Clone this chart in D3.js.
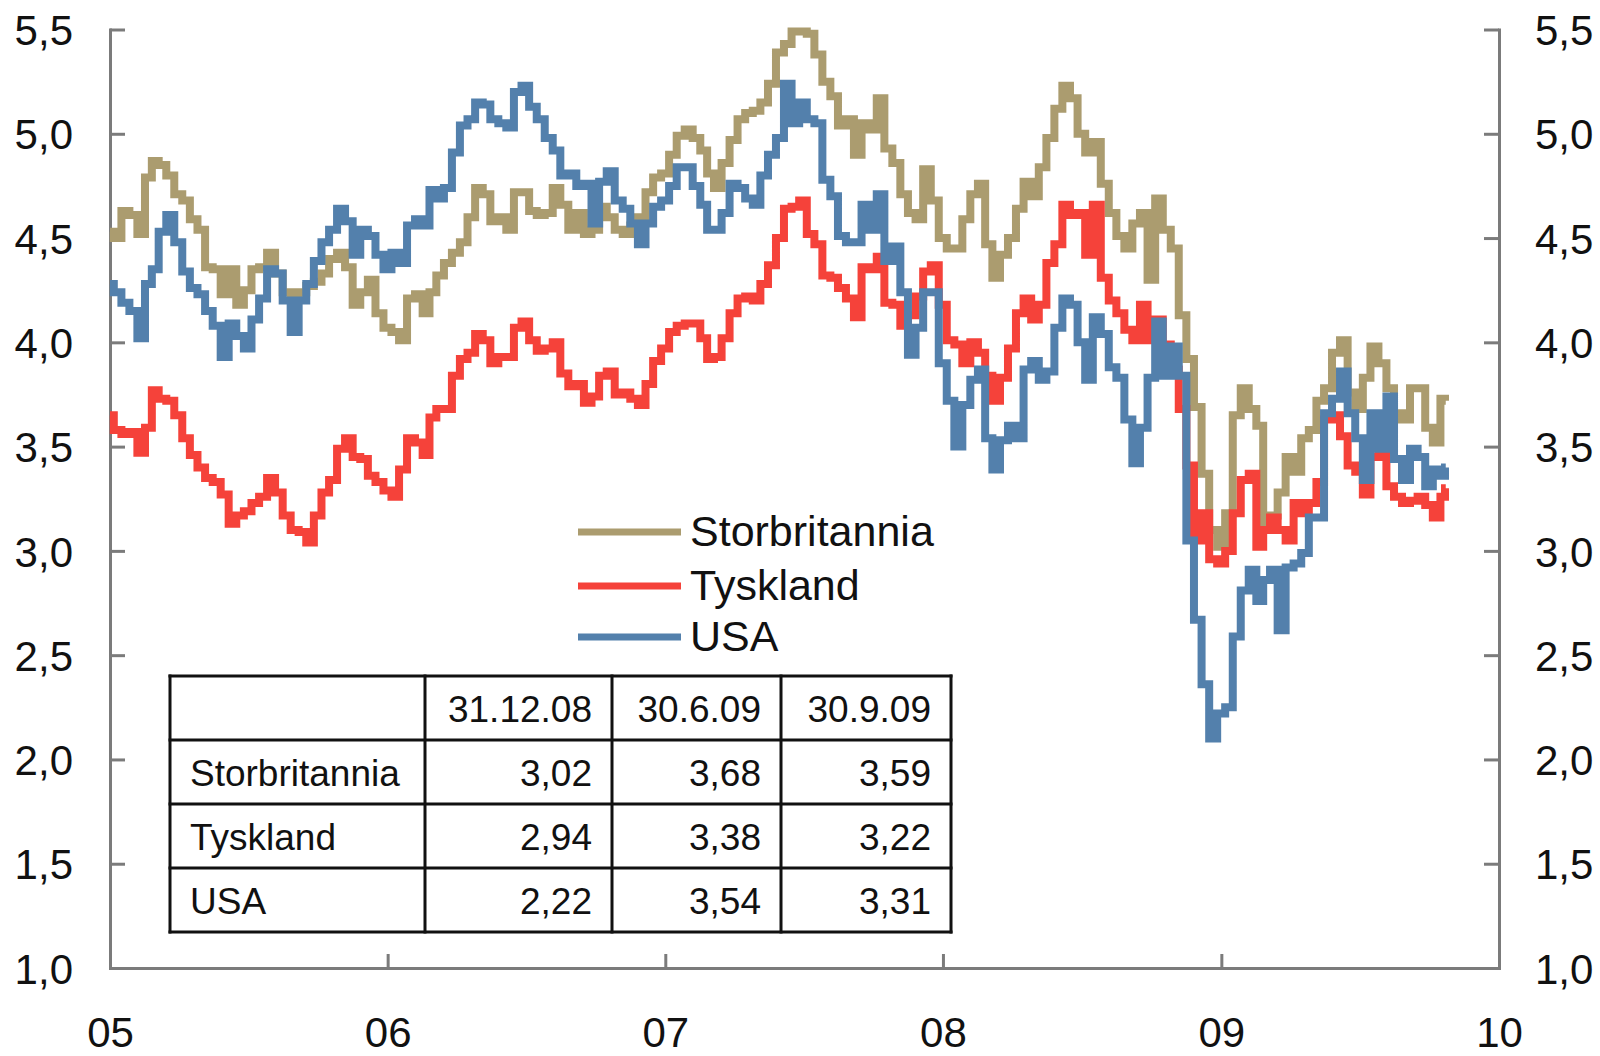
<!DOCTYPE html>
<html>
<head>
<meta charset="utf-8">
<script src="https://cdn.jsdelivr.net/npm/d3@7"></script>
<style>
  html, body { margin: 0; padding: 0; background: #fff; }
  svg { display: block; }
  text { font-family: "Liberation Sans", Arial, Helvetica, sans-serif; fill: #111; }
</style>
</head>
<body>
<svg id="chart" width="1600" height="1056"></svg>
<script>
// ---------- DATA ----------
const dates = [
"2005-01-01","2005-01-11","2005-01-21","2005-02-01","2005-02-11","2005-02-21","2005-03-01","2005-03-11","2005-03-21","2005-04-01","2005-04-11","2005-04-21",
"2005-05-01","2005-05-11","2005-05-21","2005-06-01","2005-06-11","2005-06-21","2005-07-01","2005-07-11","2005-07-21","2005-08-01","2005-08-11","2005-08-21",
"2005-09-01","2005-09-11","2005-09-21","2005-10-01","2005-10-11","2005-10-21","2005-11-01","2005-11-11","2005-11-21","2005-12-01","2005-12-11","2005-12-21",
"2006-01-01","2006-01-11","2006-01-21","2006-02-01","2006-02-11","2006-02-21","2006-03-01","2006-03-11","2006-03-21","2006-04-01","2006-04-11","2006-04-21",
"2006-05-01","2006-05-11","2006-05-21","2006-06-01","2006-06-11","2006-06-21","2006-07-01","2006-07-11","2006-07-21","2006-08-01","2006-08-11","2006-08-21",
"2006-09-01","2006-09-11","2006-09-21","2006-10-01","2006-10-11","2006-10-21","2006-11-01","2006-11-11","2006-11-21","2006-12-01","2006-12-11","2006-12-21",
"2007-01-01","2007-01-11","2007-01-21","2007-02-01","2007-02-11","2007-02-21","2007-03-01","2007-03-11","2007-03-21","2007-04-01","2007-04-11","2007-04-21",
"2007-05-01","2007-05-11","2007-05-21","2007-06-01","2007-06-11","2007-06-21","2007-07-01","2007-07-11","2007-07-21","2007-08-01","2007-08-11","2007-08-21",
"2007-09-01","2007-09-11","2007-09-21","2007-10-01","2007-10-11","2007-10-21","2007-11-01","2007-11-11","2007-11-21","2007-12-01","2007-12-11","2007-12-21",
"2008-01-01","2008-01-11","2008-01-21","2008-02-01","2008-02-11","2008-02-21","2008-03-01","2008-03-11","2008-03-21","2008-04-01","2008-04-11","2008-04-21",
"2008-05-01","2008-05-11","2008-05-21","2008-06-01","2008-06-11","2008-06-21","2008-07-01","2008-07-11","2008-07-21","2008-08-01","2008-08-11","2008-08-21",
"2008-09-01","2008-09-11","2008-09-21","2008-10-01","2008-10-11","2008-10-21","2008-11-01","2008-11-11","2008-11-21","2008-12-01","2008-12-11","2008-12-21",
"2009-01-01","2009-01-11","2009-01-21","2009-02-01","2009-02-11","2009-02-21","2009-03-01","2009-03-11","2009-03-21","2009-04-01","2009-04-11","2009-04-21",
"2009-05-01","2009-05-11","2009-05-21","2009-06-01","2009-06-11","2009-06-21","2009-07-01","2009-07-11","2009-07-21","2009-08-01","2009-08-11","2009-08-21",
"2009-09-01","2009-09-11","2009-09-21","2009-10-01","2009-10-11","2009-10-21","2009-10-23"
];

const storbritannia = [
4.53,4.50,4.63, 4.61,4.52,4.79, 4.87,4.85,4.80, 4.71,4.68,4.59,
4.54,4.36,4.35, 4.23,4.35,4.18, 4.25,4.35,4.36, 4.43,4.33,4.24,
4.21,4.24,4.27, 4.29,4.33,4.40, 4.43,4.36,4.18, 4.24,4.30,4.14,
4.07,4.05,4.01, 4.21,4.23,4.14, 4.24,4.32,4.38, 4.43,4.48,4.60,
4.74,4.71,4.58, 4.60,4.54,4.72, 4.72,4.63,4.61, 4.62,4.74,4.66,
4.54,4.62,4.52, 4.54,4.65,4.60, 4.54,4.52,4.56, 4.60,4.72,4.79,
4.81,4.90,4.99, 5.02,4.98,4.92, 4.81,4.74,4.86, 4.97,5.07,5.10,
5.11,5.15,5.24, 5.39,5.43,5.49, 5.49,5.48,5.38, 5.25,5.18,5.04,
5.07,4.90,5.05, 5.02,5.17,4.93, 4.86,4.71,4.62, 4.59,4.83,4.68,
4.50,4.45,4.45, 4.59,4.71,4.76, 4.47,4.31,4.42, 4.50,4.64,4.77,
4.70,4.84,4.98, 5.12,5.23,5.17, 5.00,4.91,4.96, 4.76,4.62,4.51,
4.45,4.57,4.62, 4.30,4.69,4.54, 4.45,4.13,3.92, 3.69,3.37,3.10,
3.02,3.18,3.65, 3.78,3.68,3.60, 3.13,3.17,3.28, 3.45,3.38,3.54,
3.58,3.72,3.78, 3.95,4.01,3.76, 3.68,3.83,3.98, 3.90,3.78,3.66,
3.63,3.78,3.78, 3.59,3.52,3.73, 3.72
];

const tyskland = [
3.65,3.58,3.56, 3.57,3.47,3.59, 3.77,3.73,3.72, 3.65,3.54,3.46,
3.40,3.35,3.33, 3.27,3.13,3.17, 3.19,3.23,3.26, 3.35,3.28,3.17,
3.10,3.09,3.04, 3.17,3.28,3.34, 3.49,3.54,3.45, 3.44,3.36,3.33,
3.29,3.26,3.39, 3.54,3.52,3.46, 3.64,3.68,3.68, 3.84,3.92,3.95,
4.04,4.01,3.90, 3.93,3.93,4.07, 4.10,4.01,3.96, 3.97,4.00,3.85,
3.79,3.80,3.71, 3.74,3.84,3.86, 3.75,3.76,3.73, 3.70,3.80,3.91,
3.97,4.05,4.08, 4.09,4.09,4.02, 3.92,3.93,4.02, 4.14,4.21,4.22,
4.20,4.28,4.37, 4.50,4.64,4.65, 4.68,4.52,4.47, 4.32,4.31,4.26,
4.21,4.12,4.36, 4.35,4.41,4.19, 4.18,4.08,4.13, 4.22,4.34,4.37,
4.18,4.01,3.99, 3.90,4.00,3.95, 3.84,3.72,3.83, 3.97,4.14,4.21,
4.11,4.18,4.38, 4.47,4.66,4.61, 4.62,4.42,4.66, 4.31,4.20,4.14,
4.06,4.01,4.18, 4.01,4.11,3.99, 3.87,3.68,3.41, 3.05,3.18,2.96,
2.94,3.00,3.18, 3.34,3.37,3.02, 3.10,3.16,3.10, 3.05,3.23,3.18,
3.23,3.33,3.63, 3.65,3.55,3.41, 3.38,3.27,3.45, 3.49,3.31,3.26,
3.23,3.24,3.26, 3.22,3.16,3.26, 3.30
];

const usa = [
4.28,4.24,4.19, 4.15,4.02,4.28, 4.35,4.53,4.61, 4.48,4.34,4.26,
4.23,4.15,4.08, 3.93,4.09,4.03, 3.97,4.11,4.21, 4.35,4.33,4.20,
4.05,4.20,4.28, 4.39,4.48,4.54, 4.64,4.58,4.42, 4.54,4.51,4.42,
4.35,4.43,4.38, 4.56,4.59,4.56, 4.73,4.69,4.74, 4.91,5.04,5.07,
5.15,5.14,5.07, 5.05,5.03,5.20, 5.23,5.13,5.07, 4.98,4.92,4.80,
4.81,4.75,4.76, 4.57,4.77,4.82, 4.68,4.64,4.57, 4.47,4.57,4.65,
4.68,4.75,4.84, 4.84,4.75,4.66, 4.54,4.54,4.62, 4.76,4.74,4.69,
4.66,4.80,4.90, 4.98,5.24,5.05, 5.15,5.07,5.05, 4.78,4.70,4.51,
4.48,4.48,4.66, 4.54,4.71,4.39, 4.46,4.24,3.94, 4.07,4.24,4.24,
3.90,3.72,3.50, 3.70,3.82,3.87, 3.54,3.39,3.53, 3.60,3.54,3.87,
3.91,3.82,3.86, 4.07,4.21,4.18, 4.00,3.82,4.12, 4.04,3.88,3.83,
3.63,3.42,3.59, 3.83,4.10,3.84, 3.98,3.84,3.05, 2.67,2.36,2.10,
2.22,2.25,2.59, 2.81,2.91,2.76, 2.86,2.91,2.62, 2.92,2.94,2.99,
3.16,3.16,3.66, 3.73,3.86,3.66, 3.54,3.34,3.66, 3.49,3.74,3.44,
3.34,3.49,3.45, 3.31,3.39,3.36, 3.40
];

const seriesNames = ["Storbritannia", "Tyskland", "USA"];
const seriesColors = ["#ab9c6f", "#f5423a", "#5380ac"];
const yTicks = [1.0, 1.5, 2.0, 2.5, 3.0, 3.5, 4.0, 4.5, 5.0, 5.5];
const xTickYears = ["2005-01-01","2006-01-01","2007-01-01","2008-01-01","2009-01-01","2010-01-01"];

const tableCols = ["31.12.08", "30.6.09", "30.9.09"];
const tableRows = ["Storbritannia", "Tyskland", "USA"];
const tableStorbritannia = [3.02, 3.68, 3.59];
const tableTyskland = [2.94, 3.38, 3.22];
const tableUSA = [2.22, 3.54, 3.31];

// ---------- CHART ----------
(function () {
const parse = d3.timeParse("%Y-%m-%d");
const svg = d3.select("#chart");
const pLeft = 110, pRight = 1499, pTop = 29.5, pBottom = 968;
const axisColor = "#7b7b7b";
const fontAxis = 42;

const x = d3.scaleTime()
  .domain([parse("2005-01-01"), parse("2010-01-01")])
  .range([pLeft, pRight]);
const y = d3.scaleLinear().domain([1, 5.5]).range([pBottom, pTop]);

const locale = d3.formatLocale({decimal: ",", thousands: " ", grouping: [3], currency: ["", " kr"]});
const f1 = locale.format(".1f");
const f2 = locale.format(".2f");

// Axes
const gL = svg.append("g").attr("transform", `translate(${pLeft},0)`)
  .call(d3.axisLeft(y).tickValues(yTicks).tickFormat(f1).tickSize(-15).tickSizeOuter(0).tickPadding(37));
const gR = svg.append("g").attr("transform", `translate(${pRight},0)`)
  .call(d3.axisRight(y).tickValues(yTicks).tickFormat(f1).tickSize(-15).tickSizeOuter(0).tickPadding(36));
const gB = svg.append("g").attr("transform", `translate(0,${pBottom})`)
  .call(d3.axisBottom(x).tickValues(xTickYears.map(parse)).tickFormat(d3.timeFormat("%y")).tickSize(-14).tickSizeOuter(0).tickPadding(49));

[gL, gR, gB].forEach(g => {
  g.select(".domain").attr("stroke", axisColor).attr("stroke-width", 3).attr("stroke-linecap", "square");
  g.selectAll(".tick line").attr("stroke", axisColor).attr("stroke-width", 3);
  g.selectAll(".tick text")
    .style("font-family", '"Liberation Sans", Arial, sans-serif')
    .style("font-size", fontAxis + "px")
    .attr("fill", "#111");
});
gL.selectAll(".tick text").attr("dy", "0.36em");
gR.selectAll(".tick text").attr("dy", "0.36em");
gB.selectAll(".tick text").attr("dy", "0.71em");

// Lines
const allSeries = [storbritannia, tyskland, usa];
const line = d3.line()
  .x(d => x(d.date))
  .y(d => y(d.value))
  .curve(d3.curveStep);

allSeries.forEach((vals, i) => {
  const data = dates.map((s, k) => ({date: parse(s), value: vals[k]}));
  svg.append("path")
    .datum(data)
    .attr("fill", "none")
    .attr("stroke", seriesColors[i])
    .attr("stroke-width", 8)
    .attr("stroke-linejoin", "miter")
    .attr("d", line);
});

// Legend
const legendY = [532, 586, 637];
const legendBase = [546, 600, 651];
const lg = svg.append("g");
seriesNames.forEach((name, i) => {
  lg.append("line")
    .attr("x1", 578).attr("x2", 681)
    .attr("y1", legendY[i]).attr("y2", legendY[i])
    .attr("stroke", seriesColors[i]).attr("stroke-width", 7);
  lg.append("text")
    .attr("x", 690).attr("y", legendBase[i])
    .style("font-size", "43px")
    .text(name);
});

// Table
const colX = [170, 425, 612, 781, 951];
const rowY = [676, 740, 804, 868, 932];
const tableVals = [tableStorbritannia, tableTyskland, tableUSA];
const tg = svg.append("g");
tg.append("rect")
  .attr("x", colX[0]).attr("y", rowY[0])
  .attr("width", colX[4] - colX[0]).attr("height", rowY[4] - rowY[0])
  .attr("fill", "#fff").attr("stroke", "none");
colX.forEach(cx => tg.append("line").attr("x1", cx).attr("x2", cx).attr("y1", rowY[0]).attr("y2", rowY[4])
  .attr("stroke", "#111").attr("stroke-width", 3).attr("stroke-linecap", "square"));
rowY.forEach(ry => tg.append("line").attr("x1", colX[0]).attr("x2", colX[4]).attr("y1", ry).attr("y2", ry)
  .attr("stroke", "#111").attr("stroke-width", 3).attr("stroke-linecap", "square"));

const tFont = "37px";
tableCols.forEach((c, j) => {
  tg.append("text")
    .attr("x", colX[j + 2] - 20).attr("y", (rowY[0] + rowY[1]) / 2 + 13.5)
    .attr("text-anchor", "end").style("font-size", tFont).text(c);
});
tableRows.forEach((r, i) => {
  const cy = (rowY[i + 1] + rowY[i + 2]) / 2 + 13.5;
  tg.append("text").attr("x", colX[0] + 20).attr("y", cy).style("font-size", tFont).text(r);
  tableVals[i].forEach((v, j) => {
    tg.append("text")
      .attr("x", colX[j + 2] - 20).attr("y", cy)
      .attr("text-anchor", "end").style("font-size", tFont).text(f2(v));
  });
});
})();
</script>
</body>
</html>
